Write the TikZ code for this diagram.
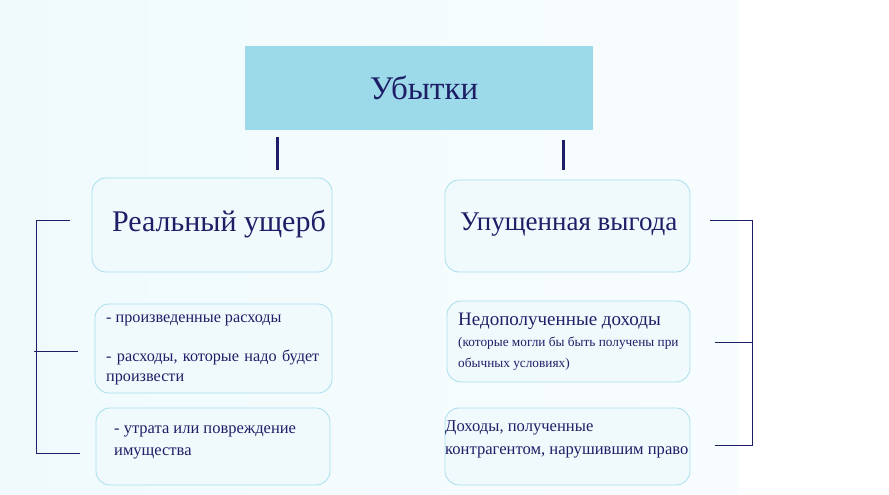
\documentclass[tikz,border=0pt]{standalone}
\usepackage{fontspec}
\setmainfont{Liberation Serif}
\definecolor{navy}{HTML}{1E1E66}
\definecolor{tbox}{HTML}{9CD9E9}
\definecolor{bord}{HTML}{A8DEEC}
\definecolor{bg}{HTML}{F0FAFD}
\tikzset{
 rbox/.style={draw=bord,line width=0.8pt,rounded corners=14pt,fill=bg},
 txt/.style={text=navy,align=left,anchor=west,inner sep=0pt},
 br/.style={draw=navy,line width=1pt},
 bar/.style={draw=navy,line width=3pt}
}
\begin{document}
\begin{tikzpicture}[x=1pt,y=-1pt]
\useasboundingbox (0,0) rectangle (889,495);
\fill[white] (0,0) rectangle (889,495);
\fill[left color=bg,right color=white!50!bg] (0,0) rectangle (738,495);
\node[fill=tbox,minimum width=348pt,minimum height=84pt,inner sep=0pt] (top) at (419,88) {};
\node[text=navy,font=\fontsize{33}{38}\selectfont] at (424,88) {Убытки};
\path[rbox] (92,178) rectangle (332,272);
\path[rbox] (95,304) rectangle (332,393);
\path[rbox] (96,408) rectangle (330,485);
\path[rbox] (445,180) rectangle (690,272);
\path[rbox] (447,301) rectangle (690,382);
\path[rbox] (445,408) rectangle (690,485);
\coordinate (b1) at (277,137); \coordinate (b1e) at (277,170);
\coordinate (b2) at (563,140); \coordinate (b2e) at (563,170);
\draw[bar] (b1) -- (b1e);
\draw[bar] (b2) -- (b2e);
\node[txt,font=\fontsize{30}{34}\selectfont] (real) at (112,224) {Реальный ущерб};
\node[txt,font=\fontsize{27}{32}\selectfont] (lost) at (460,225) {Упущенная выгода};
\node[txt,font=\fontsize{16.2}{20}\selectfont,anchor=north west] (r1) at (106,315) {- произведенные расходы};
\node[txt,font=\fontsize{16.2}{20}\selectfont,anchor=north west,text width=225pt] (r2) at (106,350) {- расходы, которые надо будет\\произвести};
\node[txt,font=\fontsize{16.5}{22}\selectfont,anchor=north west] (r3) at (114,426) {- утрата или повреждение\\имущества};
\node[txt,font=\fontsize{19}{22}\selectfont,anchor=north west] (n1) at (458,313) {Недополученные доходы};
\node[txt,font=\fontsize{13.3}{21}\selectfont,anchor=north west] (n2) at (458,337) {(которые могли бы быть получены при\\обычных условиях)};
\node[txt,font=\fontsize{16.6}{23}\selectfont,anchor=north west] (d1) at (445,420) {Доходы, полученные\\контрагентом, нарушившим право};
\coordinate (l1) at (36,220); \coordinate (l1e) at (70,220);
\coordinate (l2) at (34,351); \coordinate (l2e) at (78,351);
\coordinate (l3) at (36,453); \coordinate (l3e) at (80,453);
\draw[br] (l1e) -- (l1) -- (l3) -- (l3e);
\draw[br] (l2) -- (l2e);
\coordinate (q1) at (710,220); \coordinate (q1e) at (752,220);
\coordinate (q2) at (715,342); \coordinate (q2e) at (752,342);
\coordinate (q3) at (715,445); \coordinate (q3e) at (752,445);
\draw[br] (q1) -- (q1e) -- (q3e) -- (q3);
\draw[br] (q2) -- (q2e);
\end{tikzpicture}
\end{document}
